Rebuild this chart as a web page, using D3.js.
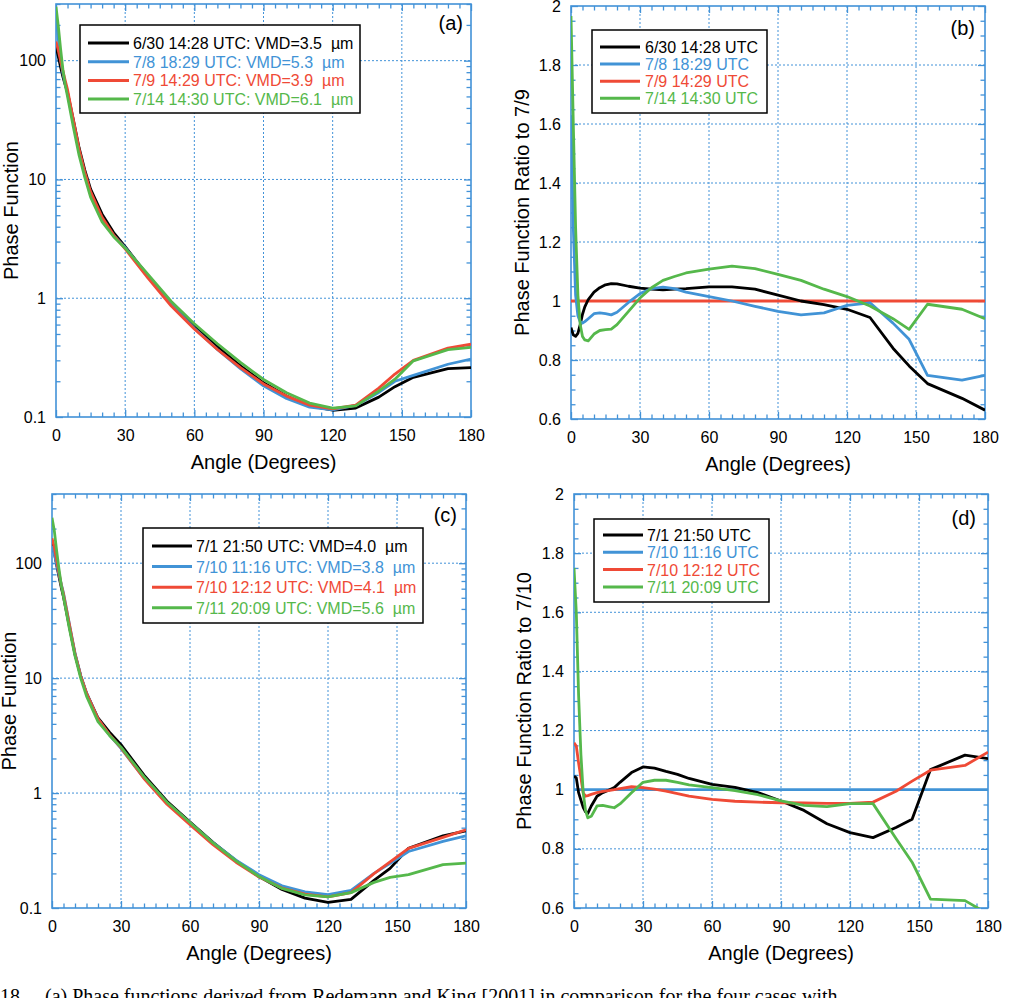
<!DOCTYPE html>
<html>
<head>
<meta charset="utf-8">
<script src="https://cdn.jsdelivr.net/npm/d3@7"></script>
<style>
  html, body { margin: 0; padding: 0; background: #fff; overflow: hidden; }
  text { font-family: 'Liberation Sans', Arial, Helvetica, sans-serif; }
</style>
</head>
<body>
<div id="chart"></div>
<script>
// angle grids (degrees)
const angleGrid = [0, 1, 2, 3, 4, 5, 7.5, 10, 12.5, 15, 20, 25, 30, 40, 50, 60, 70, 80, 90, 100, 110, 120, 130, 140, 147, 155, 170, 180];
const angleGridRatio = [0, 1, 2, 3, 4, 5, 6, 7.5, 10, 12.5, 15, 17.5, 20, 25, 30, 35, 40, 45, 50, 60, 70, 80, 90, 100, 110, 120, 130, 140, 147, 155, 170, 180];

// (a) phase functions
const phaseA0630 = [132, 108, 88, 73, 62.5, 54, 32, 18.5, 12, 8.3, 5.1, 3.57, 2.72, 1.53, 0.9, 0.58, 0.39, 0.27, 0.194, 0.15, 0.124, 0.114, 0.119, 0.147, 0.18, 0.216, 0.255, 0.26];
const phaseA0708 = [240, 152, 102, 78, 64, 53, 30, 17.2, 11, 7.56, 4.6, 3.38, 2.67, 1.54, 0.886, 0.558, 0.37, 0.255, 0.183, 0.143, 0.121, 0.115, 0.125, 0.161, 0.2, 0.224, 0.278, 0.307];
const phaseA0709 = [145, 122, 100, 82, 68, 57, 32, 18, 11.5, 7.9, 4.8, 3.4, 2.6, 1.47, 0.86, 0.55, 0.37, 0.26, 0.19, 0.15, 0.126, 0.117, 0.126, 0.175, 0.23, 0.3, 0.38, 0.41];
const phaseA0714 = [285, 195, 125, 84, 62.5, 50, 27.8, 16, 10.4, 7.1, 4.4, 3.3, 2.64, 1.58, 0.94, 0.61, 0.414, 0.288, 0.207, 0.16, 0.131, 0.119, 0.124, 0.165, 0.208, 0.297, 0.369, 0.385];

// (b) ratio to 7/9
const ratioB0630 = [0.91, 0.885, 0.88, 0.89, 0.92, 0.955, 0.98, 1.005, 1.03, 1.045, 1.055, 1.059, 1.058, 1.05, 1.044, 1.04, 1.038, 1.04, 1.042, 1.048, 1.048, 1.04, 1.02, 1.0, 0.988, 0.972, 0.944, 0.84, 0.78, 0.72, 0.67, 0.63];
const ratioB0708 = [1.63, 1.25, 1.02, 0.95, 0.93, 0.925, 0.93, 0.94, 0.957, 0.96, 0.957, 0.953, 0.962, 0.995, 1.025, 1.042, 1.047, 1.042, 1.03, 1.015, 1.0, 0.982, 0.965, 0.953, 0.96, 0.985, 0.994, 0.925, 0.87, 0.748, 0.732, 0.748];
const ratioB0709 = [1, 1, 1, 1, 1, 1, 1, 1, 1, 1, 1, 1, 1, 1, 1, 1, 1, 1, 1, 1, 1, 1, 1, 1, 1, 1, 1, 1, 1, 1, 1, 1];
const ratioB0714 = [1.966, 1.6, 1.25, 1.02, 0.92, 0.88, 0.868, 0.865, 0.888, 0.9, 0.903, 0.905, 0.92, 0.965, 1.01, 1.045, 1.07, 1.083, 1.095, 1.108, 1.118, 1.11, 1.09, 1.07, 1.04, 1.015, 0.983, 0.94, 0.904, 0.989, 0.972, 0.94];

// (c) phase functions
const phaseC0701 = [148.5, 124.8, 97, 77.2, 62, 50.9, 28.4, 16.1, 10.4, 7.4, 4.5, 3.39, 2.64, 1.43, 0.85, 0.56, 0.373, 0.258, 0.188, 0.145, 0.122, 0.112, 0.119, 0.174, 0.221, 0.331, 0.424, 0.47];
const phaseC1116 = [142, 120, 98, 80, 66, 55, 30, 16.5, 10.5, 7.4, 4.4, 3.2, 2.45, 1.35, 0.82, 0.55, 0.37, 0.261, 0.195, 0.156, 0.138, 0.131, 0.142, 0.2, 0.245, 0.31, 0.38, 0.425];
const phaseC1212 = [164.6, 137.8, 106.8, 83.2, 65.3, 53.8, 29.5, 16.3, 10.4, 7.38, 4.42, 3.23, 2.47, 1.34, 0.8, 0.53, 0.356, 0.25, 0.186, 0.149, 0.132, 0.125, 0.136, 0.199, 0.252, 0.33, 0.411, 0.479];
const phaseC2009 = [248, 192, 129, 90, 65, 51, 27.3, 15.6, 9.94, 6.98, 4.19, 3.17, 2.51, 1.39, 0.833, 0.554, 0.369, 0.257, 0.188, 0.148, 0.13, 0.125, 0.136, 0.167, 0.185, 0.195, 0.238, 0.246];

// (d) ratio to 7/10
const ratioD0701 = [1.046, 1.04, 0.99, 0.965, 0.94, 0.925, 0.92, 0.945, 0.978, 0.99, 0.998, 1.007, 1.025, 1.058, 1.077, 1.073, 1.062, 1.052, 1.038, 1.018, 1.008, 0.99, 0.962, 0.93, 0.885, 0.855, 0.838, 0.872, 0.9, 1.068, 1.117, 1.105];
const ratioD1116 = [1, 1, 1, 1, 1, 1, 1, 1, 1, 1, 1, 1, 1, 1, 1, 1, 1, 1, 1, 1, 1, 1, 1, 1, 1, 1, 1, 1, 1, 1, 1, 1];
const ratioD1212 = [1.159, 1.148, 1.09, 1.04, 0.99, 0.978, 0.98, 0.984, 0.99, 0.994, 0.997, 1.0, 1.004, 1.01, 1.007, 1.002, 0.995, 0.987, 0.978, 0.967, 0.961, 0.958, 0.956, 0.955, 0.954, 0.954, 0.958, 0.995, 1.029, 1.066, 1.082, 1.127];
const ratioD2009 = [1.75, 1.6, 1.32, 1.12, 0.99, 0.93, 0.905, 0.91, 0.945, 0.947, 0.943, 0.939, 0.952, 0.99, 1.025, 1.032, 1.032, 1.025, 1.016, 1.007, 0.997, 0.983, 0.962, 0.947, 0.943, 0.953, 0.953, 0.835, 0.755, 0.63, 0.625, 0.58];

const labelsA = ['6/30 14:28 UTC: VMD=3.5  µm', '7/8 18:29 UTC: VMD=5.3  µm', '7/9 14:29 UTC: VMD=3.9  µm', '7/14 14:30 UTC: VMD=6.1  µm'];
const labelsB = ['6/30 14:28 UTC', '7/8 18:29 UTC', '7/9 14:29 UTC', '7/14 14:30 UTC'];
const labelsC = ['7/1 21:50 UTC: VMD=4.0  µm', '7/10 11:16 UTC: VMD=3.8  µm', '7/10 12:12 UTC: VMD=4.1  µm', '7/11 20:09 UTC: VMD=5.6  µm'];
const labelsD = ['7/1 21:50 UTC', '7/10 11:16 UTC', '7/10 12:12 UTC', '7/11 20:09 UTC'];

const angleTicks = [0, 30, 60, 90, 120, 150, 180];
const logTicks = [0.1, 1, 10, 100];
const ratioTicks = [0.6, 0.8, 1, 1.2, 1.4, 1.6, 1.8, 2];

const colors = ['#000000', '#4193d6', '#ef4a36', '#55b84b'];
const frameColor = '#4292d8';

const svg = d3.select('#chart').append('svg')
  .attr('width', 1024)
  .attr('height', 998);

const panels = [
  {
    id: 'a', left: 56, right: 471, top: 4, bottom: 417, log: true, yDomain: [0.1, 300],
    yTitle: 'Phase Function', titleX: 18, tag: '(a)', tagX: 463, tagY: 30,
    x: angleGrid, series: [phaseA0630, phaseA0708, phaseA0709, phaseA0714], labels: labelsA,
    legend: { x: 80, y: 25, w: 280, h: 88, first: 43, step: 18.7, lx0: 88, lx1: 129, tx: 133 }
  },
  {
    id: 'b', left: 571, right: 985, top: 6, bottom: 419, log: false, yDomain: [0.6, 2],
    yTitle: 'Phase Function Ratio to 7/9', titleX: 529, tag: '(b)', tagX: 975, tagY: 35,
    x: angleGridRatio, series: [ratioB0630, ratioB0708, ratioB0709, ratioB0714], labels: labelsB,
    legend: { x: 592, y: 30, w: 175, h: 83, first: 47, step: 17.1, lx0: 600, lx1: 640, tx: 645 }
  },
  {
    id: 'c', left: 52, right: 466, top: 494, bottom: 908, log: true, yDomain: [0.1, 400],
    yTitle: 'Phase Function', titleX: 16, tag: '(c)', tagX: 457, tagY: 522,
    x: angleGrid, series: [phaseC0701, phaseC1116, phaseC1212, phaseC2009], labels: labelsC,
    legend: { x: 143, y: 528, w: 280, h: 95, first: 546, step: 20.6, lx0: 152, lx1: 192, tx: 196 }
  },
  {
    id: 'd', left: 574, right: 988, top: 494, bottom: 908, log: false, yDomain: [0.6, 2],
    yTitle: 'Phase Function Ratio to 7/10', titleX: 531, tag: '(d)', tagX: 976, tagY: 525,
    x: angleGridRatio, series: [ratioD0701, ratioD1116, ratioD1212, ratioD2009], labels: labelsD,
    legend: { x: 594, y: 519, w: 175, h: 83, first: 535, step: 17.3, lx0: 603, lx1: 643, tx: 647 }
  }
];

const fmtY = d => (d >= 1 ? d3.format('d')(d) : String(d));
const fmtRatio = d => String(+d.toFixed(1));

function minorLog(domain) {
  const out = [];
  for (let e = -1; e <= 2; e++) {
    for (let m = 2; m <= 9; m++) {
      const v = m * Math.pow(10, e);
      if (v > domain[0] && v <= domain[1]) out.push(v);
    }
  }
  return out;
}

panels.forEach((p) => {
  const g = svg.append('g').attr('class', `panel-${p.id}`);

  const x = d3.scaleLinear().domain([0, 180]).range([p.left, p.right]);
  const y = (p.log ? d3.scaleLog() : d3.scaleLinear())
    .domain(p.yDomain)
    .range([p.bottom, p.top]);

  const yMajor = p.log ? logTicks : ratioTicks;
  const yMinor = p.log ? minorLog(p.yDomain) : d3.range(0.65, 2, 0.05).filter(v => Math.abs(v * 5 - Math.round(v * 5)) > 0.01);
  const xMinor = d3.range(5, 180, 5).filter(v => v % 30 !== 0);

  // dotted grid
  g.append('g').selectAll('line')
    .data(angleTicks.slice(1, -1))
    .enter()
    .append('line')
    .attr('x1', d => x(d)).attr('x2', d => x(d))
    .attr('y1', p.top).attr('y2', p.bottom)
    .attr('stroke', frameColor)
    .attr('stroke-width', 1)
    .attr('stroke-dasharray', '2,2');

  g.append('g').selectAll('line')
    .data(yMajor.filter(v => v > p.yDomain[0] && v < p.yDomain[1]))
    .enter()
    .append('line')
    .attr('x1', p.left).attr('x2', p.right)
    .attr('y1', d => y(d)).attr('y2', d => y(d))
    .attr('stroke', frameColor)
    .attr('stroke-width', 1)
    .attr('stroke-dasharray', '2,2');

  // axes, ticks pointing inward on all four sides
  const addAxis = (axis, transform, labels) => {
    const a = g.append('g').attr('transform', transform).call(axis);
    a.select('.domain').remove();
    a.selectAll('.tick line').attr('stroke', frameColor).attr('stroke-width', 1.3);
    a.selectAll('.tick text')
      .attr('fill', '#000')
      .style('font-size', '16px')
      .style('display', labels ? null : 'none');
    return a;
  };

  addAxis(d3.axisBottom(x).tickValues(angleTicks).tickSizeInner(-7).tickSizeOuter(0).tickPadding(13),
    `translate(0,${p.bottom})`, true);
  addAxis(d3.axisBottom(x).tickValues(xMinor).tickSizeInner(-4.5).tickSizeOuter(0).tickFormat(''),
    `translate(0,${p.bottom})`, false);
  addAxis(d3.axisTop(x).tickValues(angleTicks).tickSizeInner(-7).tickSizeOuter(0).tickFormat(''),
    `translate(0,${p.top})`, false);
  addAxis(d3.axisTop(x).tickValues(xMinor).tickSizeInner(-4.5).tickSizeOuter(0).tickFormat(''),
    `translate(0,${p.top})`, false);

  addAxis(d3.axisLeft(y).tickValues(yMajor).tickSizeInner(-7).tickSizeOuter(0).tickPadding(10)
    .tickFormat(p.log ? fmtY : fmtRatio), `translate(${p.left},0)`, true);
  addAxis(d3.axisLeft(y).tickValues(yMinor).tickSizeInner(-4.5).tickSizeOuter(0).tickFormat(''),
    `translate(${p.left},0)`, false);
  addAxis(d3.axisRight(y).tickValues(yMajor).tickSizeInner(-7).tickSizeOuter(0).tickFormat(''),
    `translate(${p.right},0)`, false);
  addAxis(d3.axisRight(y).tickValues(yMinor).tickSizeInner(-4.5).tickSizeOuter(0).tickFormat(''),
    `translate(${p.right},0)`, false);

  // frame
  g.append('rect')
    .attr('x', p.left).attr('y', p.top)
    .attr('width', p.right - p.left).attr('height', p.bottom - p.top)
    .attr('fill', 'none')
    .attr('stroke', frameColor)
    .attr('stroke-width', 1.6);

  // data lines
  g.append('clipPath').attr('id', `clip-${p.id}`)
    .append('rect')
    .attr('x', p.left).attr('y', p.top)
    .attr('width', p.right - p.left).attr('height', p.bottom - p.top);

  const line = d3.line()
    .x((d, i) => x(p.x[i]))
    .y(d => y(d));

  // reference series (flat ratio) drawn first, like the original
  const order = p.log ? [0, 1, 2, 3] : (p.id === 'b' ? [2, 0, 1, 3] : [1, 0, 2, 3]);
  g.append('g').attr('clip-path', `url(#clip-${p.id})`)
    .selectAll('path')
    .data(order)
    .enter()
    .append('path')
    .attr('d', k => line(p.series[k]))
    .attr('fill', 'none')
    .attr('stroke', k => colors[k])
    .attr('stroke-width', 2.8)
    .attr('stroke-linejoin', 'round');

  // legend
  const L = p.legend;
  const leg = g.append('g');
  leg.append('rect')
    .attr('x', L.x).attr('y', L.y)
    .attr('width', L.w).attr('height', L.h)
    .attr('fill', '#fff')
    .attr('stroke', '#000')
    .attr('stroke-width', 1.5);
  p.labels.forEach((label, i) => {
    const ly = L.first + i * L.step;
    leg.append('line')
      .attr('x1', L.lx0).attr('x2', L.lx1)
      .attr('y1', ly).attr('y2', ly)
      .attr('stroke', colors[i])
      .attr('stroke-width', 3);
    leg.append('text')
      .attr('x', L.tx).attr('y', ly + 6)
      .attr('fill', colors[i])
      .style('font-size', '16px')
      .style('white-space', 'pre')
      .text(label);
  });

  // panel tag
  g.append('text')
    .attr('x', p.tagX).attr('y', p.tagY)
    .attr('text-anchor', 'end')
    .style('font-size', '20px')
    .text(p.tag);

  // axis titles
  g.append('text')
    .attr('x', (p.left + p.right) / 2)
    .attr('y', p.bottom + 52)
    .attr('text-anchor', 'middle')
    .style('font-size', '20px')
    .text('Angle (Degrees)');

  g.append('text')
    .attr('transform', `translate(${p.titleX},${(p.top + p.bottom) / 2}) rotate(-90)`)
    .attr('text-anchor', 'middle')
    .style('font-size', '20px')
    .text(p.yTitle);
});

// start of the figure caption, cut by the page edge as in the source
svg.append('text')
  .attr('x', 0)
  .attr('y', 1003)
  .style('font-family', "'Liberation Serif', 'DejaVu Serif', serif")
  .style('font-size', '20px')
  .style('white-space', 'pre')
  .text('18.    (a) Phase functions derived from Redemann and King [2001] in comparison for the four cases with');
</script>
</body>
</html>
